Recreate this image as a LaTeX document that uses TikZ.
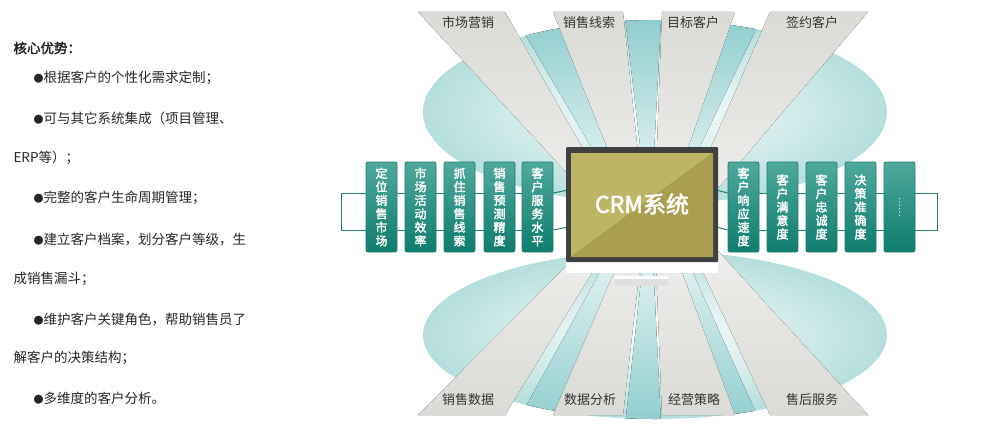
\documentclass[tikz,border=0pt]{standalone}
\usepackage{fontspec}
\setmainfont[AutoFakeBold=2.5]{Noto Sans CJK SC}
\usetikzlibrary{shadings}
\definecolor{teal1}{HTML}{4FA99C}
\definecolor{teal2}{HTML}{0E7D6E}
\definecolor{tealline}{HTML}{1F7E72}
\definecolor{beamgray}{HTML}{DADAD6}
\definecolor{beamteal}{HTML}{86C9CA}
\definecolor{ell}{HTML}{B4DEDD}
\definecolor{oliveA}{HTML}{BEB466}
\definecolor{oliveB}{HTML}{A99F4E}
\newcommand{\bul}{{\fontsize{10}{10}\selectfont ●}}
\begin{document}
\begin{tikzpicture}[x=1pt,y=-1pt,
  stepbox/.style={draw=tealline,line width=0.8pt,rounded corners=2pt,top color=teal1,bottom color=teal2,minimum width=31pt,minimum height=90pt,inner sep=0pt,text=white,font=\fontsize{12}{13.5}\selectfont\bfseries},
  lbl/.style={font=\fontsize{13}{15}\selectfont,text=black!80},
  para/.style={anchor=west,font=\fontsize{13.5}{16}\selectfont,text=black!85},
  link/.style={draw=tealline,line width=1pt}]
\useasboundingbox (0,0) rectangle (990,444);
% ellipses
\shade[inner color=white,outer color=ell] (655,112) ellipse (232 and 92);
\shade[inner color=white,outer color=ell] (655,335) ellipse (232 and 84);
% teal beams
\begin{scope}
\clip (655,112) ellipse (232 and 92);
\fill[top color=beamteal,bottom color=white] (505,0) -- (553,0) -- (640,230) -- cycle;
\fill[top color=beamteal,bottom color=white] (623,0) -- (662,0) -- (650,230) -- cycle;
\fill[top color=beamteal,bottom color=white] (735,0) -- (770,0) -- (660,230) -- cycle;
\end{scope}
\begin{scope}
\clip (655,335) ellipse (232 and 84);
\fill[bottom color=beamteal,top color=white] (505,444) -- (553,444) -- (640,200) -- cycle;
\fill[bottom color=beamteal,top color=white] (623,444) -- (662,444) -- (650,200) -- cycle;
\fill[bottom color=beamteal,top color=white] (735,444) -- (770,444) -- (660,200) -- cycle;
\end{scope}
% gray beams
\fill[top color=beamgray,bottom color=beamgray!45] (418,12) -- (505,12) -- (612,200) -- (592,200) -- cycle;
\fill[top color=beamgray,bottom color=beamgray!45] (553,12) -- (623,12) -- (643,200) -- (628,200) -- cycle;
\fill[top color=beamgray,bottom color=beamgray!45] (662,12) -- (735,12) -- (670,200) -- (655,200) -- cycle;
\fill[top color=beamgray,bottom color=beamgray!45] (770,12) -- (868,12) -- (708,200) -- (688,200) -- cycle;
\fill[bottom color=beamgray,top color=beamgray!45] (418,415) -- (505,415) -- (612,240) -- (592,240) -- cycle;
\fill[bottom color=beamgray,top color=beamgray!45] (553,415) -- (623,415) -- (643,240) -- (628,240) -- cycle;
\fill[bottom color=beamgray,top color=beamgray!45] (662,415) -- (735,415) -- (670,240) -- (655,240) -- cycle;
\fill[bottom color=beamgray,top color=beamgray!45] (770,415) -- (868,415) -- (708,240) -- (688,240) -- cycle;
% labels
\node[lbl] (t1) at (468,23) {市场营销};
\node[lbl] (t2) at (589,23) {销售线索};
\node[lbl] (t3) at (693,23) {目标客户};
\node[lbl] (t4) at (812,23) {签约客户};
\node[lbl] (b1) at (468,400) {销售数据};
\node[lbl] (b2) at (590,400) {数据分析};
\node[lbl] (b3) at (694,400) {经营策略};
\node[lbl] (b4) at (812,400) {售后服务};
% monitor
\fill[white] (566,258) rectangle (718,273);
\fill[black!12] (615,276) rectangle (668,286);
\fill[white] (615,276) rectangle (668,279);
\fill[black!75,rounded corners=1pt] (566,147) rectangle (718,262);
\fill[oliveA] (571,153) -- (713,153) -- (571,257) -- cycle;
\fill[oliveB] (713,153) -- (713,257) -- (571,257) -- cycle;
\node[minimum width=152pt,minimum height=115pt,inner sep=0pt] (crm) at (642,204.5) {};
\node[text=white,font=\fontsize{23}{25}\selectfont\bfseries] (crmt) at (642,204) {CRM系统};
% boxes
\foreach \n/\x/\t in {L1/381.5/定\\位\\销\\售\\市\\场, L2/420.5/市\\场\\活\\动\\效\\率, L3/459.5/抓\\住\\销\\售\\线\\索, L4/499.5/销\\售\\预\\测\\精\\度, L5/537.5/客\\户\\服\\务\\水\\平,
  R1/743.5/客\\户\\响\\应\\速\\度, R2/782.5/客\\户\\满\\意\\度, R3/821.5/客\\户\\忠\\诚\\度, R4/860.5/决\\策\\准\\确\\度}
  {\node[stepbox,align=center] (\n) at (\x,207) {\t};}
\node[stepbox,font=\fontsize{9}{9}\selectfont] (R5) at (899.5,207) {\rotatebox{-90}{……}};
% connectors
\coordinate (lo) at (341,207);
\coordinate (ro) at (937,207);
\draw[link] ([yshift=14pt]L1.west) -| ([yshift=14pt]lo) |- ([yshift=-23pt]L1.west);
\draw[link] ([yshift=14pt]R5.east) -| ([yshift=14pt]ro) |- ([yshift=-23pt]R5.east);
\foreach \a/\b in {L1/L2,L2/L3,L3/L4,L4/L5,L5/crm,crm/R1,R1/R2,R2/R3,R3/R4,R4/R5}{
  \draw[link] ([yshift=14pt]\a.east) -- ([yshift=14pt]\b.west);
  \draw[link] ([yshift=-23pt]\a.east) -- ([yshift=-23pt]\b.west);
}
% left text
\node[para,font=\fontsize{13.5}{16}\selectfont\bfseries] (h) at (10,48) {核心优势：};
\node[para] (p1) at (30,78) {\bul 根据客户的个性化需求定制；};
\node[para] (p2) at (30,118) {\bul 可与其它系统集成（项目管理、};
\node[para] (p2b) at (10,158) {ERP等）；};
\node[para] (p3) at (30,198) {\bul 完整的客户生命周期管理；};
\node[para] (p4) at (30,239) {\bul 建立客户档案，划分客户等级，生};
\node[para] (p4b) at (10,279) {成销售漏斗；};
\node[para] (p5) at (30,319) {\bul 维护客户关键角色，帮助销售员了};
\node[para] (p5b) at (10,358) {解客户的决策结构；};
\node[para] (p6) at (30,398) {\bul 多维度的客户分析。};
\end{tikzpicture}
\end{document}
